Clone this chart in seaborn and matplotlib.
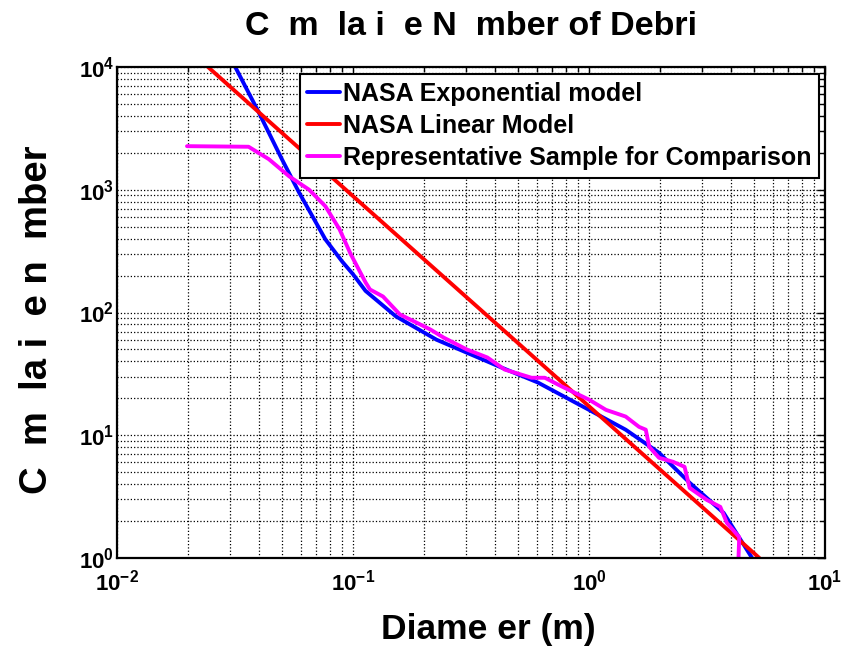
import matplotlib
matplotlib.use("Agg")
import matplotlib.pyplot as plt
import seaborn as sns
import pandas as pd
from matplotlib.ticker import LogLocator, NullFormatter

# ---- data ----
exp_d = [0.0317, 0.0398, 0.050, 0.059, 0.0764, 0.090, 0.100, 0.113, 0.152, 0.226,
         0.304, 0.426, 0.607, 1.00, 1.43, 1.98, 2.67, 3.72, 4.91]
exp_n = [10000, 4300, 1770, 955, 394, 260, 205, 150, 93, 60,
         47, 35.6, 26.9, 16.1, 11.1, 7.2, 4.1, 2.33, 1.0]

lin_d = [0.0243, 5.27]
lin_n = [10000, 1.0]

smp_d = [0.0198, 0.0361, 0.0440, 0.0536, 0.0652, 0.0764, 0.0877, 0.0977, 0.113, 0.118,
         0.134, 0.158, 0.193, 0.213, 0.242, 0.304, 0.371, 0.439, 0.571, 0.650,
         0.769, 1.00, 1.18, 1.43, 1.63, 1.74, 1.80, 1.98, 2.27, 2.54,
         2.67, 3.16, 3.60, 3.84, 4.33, 4.30]
smp_n = [2265, 2240, 1774, 1288, 1000, 733, 476, 300, 176, 154,
         135, 96.4, 79.8, 72.6, 62.5, 49.9, 43.0, 34.3, 29.4, 29.4,
         24.9, 19.5, 16.1, 14.2, 11.7, 11.1, 8.05, 6.55, 6.08, 5.53,
         3.72, 2.97, 2.61, 1.93, 1.48, 1.0]

labels = ["NASA Exponential model", "NASA Linear Model",
          "Representative Sample for Comparison"]
colors = ["#0000ff", "#ff0000", "#ff00ff"]

title = "C  m  la i  e N  mber of Debri"
xlabel = "Diame er (m)"
ylabel = "C  m  la i  e n  mber"

# ---- style ----
sns.set_theme(style="white")
plt.rcParams["font.family"] = ["Liberation Sans", "DejaVu Sans"]
plt.rcParams["font.weight"] = "bold"
plt.rcParams["text.color"] = "black"
plt.rcParams["axes.labelcolor"] = "black"
plt.rcParams["xtick.color"] = "black"
plt.rcParams["ytick.color"] = "black"
plt.rcParams["mathtext.fontset"] = "custom"
plt.rcParams["mathtext.rm"] = "Liberation Sans:bold"
plt.rcParams["mathtext.it"] = "Liberation Sans:bold"
plt.rcParams["mathtext.bf"] = "Liberation Sans:bold"
plt.rcParams["mathtext.default"] = "rm"

fig = plt.figure(figsize=(8.47, 6.5), dpi=100)
ax = fig.add_axes([117 / 847, 1 - 558 / 650, 708 / 847, 491 / 650])

frames = [
    pd.DataFrame({"d": exp_d, "n": exp_n}),
    pd.DataFrame({"d": lin_d, "n": lin_n}),
    pd.DataFrame({"d": smp_d, "n": smp_n}),
]
for df, lab, col in zip(frames, labels, colors):
    sns.lineplot(data=df, x="d", y="n", ax=ax, color=col, lw=2.8,
                 label=lab, sort=False, estimator=None)

ax.set_xscale("log")
ax.set_yscale("log")
ax.set_xlim(1e-2, 1e1)
ax.set_ylim(1e0, 1e4)

ax.xaxis.set_major_locator(LogLocator(base=10, numticks=10))
ax.yaxis.set_major_locator(LogLocator(base=10, numticks=10))
ax.xaxis.set_minor_locator(LogLocator(base=10, subs=range(2, 10), numticks=20))
ax.yaxis.set_minor_locator(LogLocator(base=10, subs=range(2, 10), numticks=20))
ax.xaxis.set_minor_formatter(NullFormatter())
ax.yaxis.set_minor_formatter(NullFormatter())

ax.grid(True, which="both", color="black", linestyle=":", linewidth=0.9)
for s in ax.spines.values():
    s.set_color("black")
    s.set_linewidth(1.6)
    s.set_visible(True)

ax.tick_params(which="both", direction="in", top=True, right=True,
               color="black", width=1.0)
ax.tick_params(which="major", length=6, labelsize=16)
ax.tick_params(which="minor", length=3.5)
ax.tick_params(axis="x", which="major", pad=8)
ax.tick_params(axis="y", which="major", pad=2)
for t in ax.get_xticklabels() + ax.get_yticklabels():
    t.set_fontweight("bold")

ax.set_title(title, fontsize=24.5, fontweight="bold", pad=23)
ax.set_xlabel(xlabel, fontsize=25.5, fontweight="bold")
ax.set_ylabel(ylabel, fontsize=27.5, fontweight="bold")
ax.xaxis.set_label_coords(0.524, -0.113)
ax.yaxis.set_label_coords(-0.088, 0.485)

leg = ax.legend(loc="upper right", bbox_to_anchor=(0.9915, 0.9857),
                prop={"weight": "bold", "size": 18},
                frameon=True, fancybox=False, edgecolor="black",
                handlelength=1.3, handletextpad=0.12, borderpad=0.3,
                labelspacing=0.33, borderaxespad=0.0)
leg.get_frame().set_linewidth(1.5)
leg.get_frame().set_alpha(1.0)

fig.savefig("out.png", dpi=100)
